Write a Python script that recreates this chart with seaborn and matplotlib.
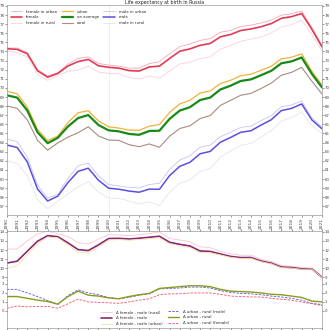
import matplotlib
matplotlib.use("Agg")
import matplotlib.pyplot as plt
import seaborn as sns
import numpy as np
import pandas as pd

years = list(range(1990, 2022))

on_average = [69.19, 68.93, 67.51, 65.14, 63.93, 64.52, 65.77, 66.69, 67.02, 65.93,
              65.34, 65.23, 64.95, 64.85, 65.27, 65.30, 66.60, 67.51, 67.88, 68.67,
              68.94, 69.83, 70.24, 70.76, 70.93, 71.39, 71.87, 72.70, 72.91, 73.34,
              71.54, 70.06]
urban = [69.62, 69.36, 67.89, 65.46, 64.21, 64.72, 66.20, 67.28, 67.49, 66.38,
         65.73, 65.59, 65.38, 65.34, 65.80, 65.98, 67.30, 68.24, 68.64, 69.43,
         69.67, 70.48, 70.83, 71.34, 71.50, 71.93, 72.37, 73.19, 73.36, 73.75,
         71.84, 70.33]
rural = [68.02, 67.76, 66.49, 64.26, 63.16, 63.97, 64.60, 65.08, 65.74, 64.73,
         64.28, 64.24, 63.78, 63.54, 63.85, 63.48, 64.70, 65.54, 65.84, 66.63,
         66.97, 68.08, 68.63, 69.19, 69.40, 69.93, 70.52, 71.39, 71.71, 72.25,
         70.74, 69.33]
male = [63.73, 63.46, 61.87, 58.91, 57.59, 58.12, 59.61, 60.84, 61.19, 59.86,
        58.99, 58.88, 58.68, 58.55, 58.89, 58.87, 60.37, 61.39, 61.83, 62.77,
        63.03, 64.04, 64.56, 65.13, 65.29, 65.92, 66.50, 67.51, 67.75, 68.24,
        66.49, 65.51]
male_urban = [64.38, 64.11, 62.41, 59.34, 57.90, 58.32, 60.07, 61.47, 61.73, 60.35,
              59.40, 59.24, 59.09, 59.02, 59.40, 59.53, 61.05, 62.08, 62.55, 63.49,
              63.72, 64.65, 65.11, 65.66, 65.80, 66.41, 66.95, 67.93, 68.13, 68.56,
              66.72, 65.70]
male_rural = [61.98, 61.71, 60.41, 57.74, 56.75, 57.57, 58.37, 59.12, 59.73, 58.55,
              57.90, 57.89, 57.59, 57.27, 57.50, 57.08, 58.55, 59.53, 59.90, 60.84,
              61.17, 62.40, 63.06, 63.71, 63.90, 64.61, 65.30, 66.38, 66.73, 67.36,
              65.87, 65.00]
female = [74.30, 74.23, 73.75, 71.88, 71.18, 71.59, 72.41, 72.89, 73.13, 72.43,
          72.26, 72.17, 71.90, 71.85, 72.30, 72.39, 73.23, 74.02, 74.28, 74.67,
          74.88, 75.61, 75.86, 76.30, 76.47, 76.71, 77.06, 77.64, 77.82, 78.17,
          76.43, 74.51]
female_urban = [74.38, 74.38, 73.87, 72.02, 71.32, 71.67, 72.63, 73.24, 73.40, 72.69,
                72.50, 72.40, 72.17, 72.17, 72.66, 72.88, 73.74, 74.53, 74.82, 75.21,
                75.42, 76.11, 76.31, 76.73, 76.89, 77.13, 77.44, 77.99, 78.14, 78.44,
                76.65, 74.67]
female_rural = [74.08, 73.83, 73.42, 71.52, 70.82, 71.37, 71.83, 71.94, 72.40, 71.74,
                71.60, 71.55, 71.17, 70.97, 71.31, 71.08, 71.84, 72.63, 72.82, 73.21,
                73.42, 74.26, 74.66, 75.13, 75.34, 75.58, 76.04, 76.69, 76.94, 77.44,
                75.85, 74.07]

title = "Life expectancy at birth in Russia"

sns.set_theme(style="ticks")
plt.rcParams['font.family'] = ['DejaVu Sans']

W = H = 330
fig = plt.figure(figsize=(3.3, 3.3), dpi=100)
fig.patch.set_facecolor("white")

def rect(l, t, r, b):
    return [l / W, 1 - b / H, (r - l) / W, (b - t) / H]

ax = fig.add_axes(rect(7, 5, 322, 215))
ax3 = fig.add_axes(rect(7, 280, 322, 328))
ax2 = fig.add_axes(rect(7, 231, 322, 280))

YFS = 2.8
XFS = 3.2
LFS = 2.8

main_series = [
    ("female in urban", female_urban, "#f3a9b8", 0.6),
    ("female", female, "#e23b57", 1.2),
    ("female in rural", female_rural, "#fbd0dc", 0.6),
    ("urban", urban, "#f2b13c", 0.9),
    ("on average", on_average, "#178a17", 1.6),
    ("rural", rural, "#a88c80", 0.8),
    ("male in urban", male_urban, "#c9c3ee", 0.6),
    ("male", male, "#5a4fe3", 1.1),
    ("male in rural", male_rural, "#e4e4f0", 0.6),
]
for name, vals, col, lw in main_series:
    sns.lineplot(x=years, y=vals, ax=ax, color=col, lw=lw, label=name)

ax.set_xlim(1990, 2021)
ax.set_ylim(56.05, 79.1)
ax.set_yticks(range(57, 80))
ax.set_xticks(years)
ax.set_xticklabels([str(y) for y in years], rotation=90)
ax.axvline(2000, color="#eeeeee", lw=0.6, zorder=0)
ax.tick_params(axis="y", labelsize=YFS, length=1.2, width=0.4, pad=0.6,
               colors="#444444", right=True, labelright=True)
ax.tick_params(axis="x", labelsize=XFS, length=1.2, width=0.4, pad=0.8,
               colors="#444444")
for s in ax.spines.values():
    s.set_linewidth(0.5)
    s.set_color("#999999")
ax.set_title(title, fontsize=3.4, pad=0.8, color="#222222")
ax.legend(loc="upper left", bbox_to_anchor=(9 / W, 1 - 8 / H),
          bbox_transform=fig.transFigure, ncol=3, fontsize=LFS,
          frameon=False, handlelength=3.0, handletextpad=0.9,
          columnspacing=1.2, labelspacing=0.45, borderaxespad=0)

# female - male differences
fm = np.array(female) - np.array(male)
fm_urban = np.array(female_urban) - np.array(male_urban)
fm_rural = np.array(female_rural) - np.array(male_rural)
sns.lineplot(x=years, y=fm_rural, ax=ax2, color="#f6c6d2", lw=0.6, label="Δ female - male (rural)")
sns.lineplot(x=years, y=fm, ax=ax2, color="#8a2a72", lw=1.2, label="Δ female - male")
sns.lineplot(x=years, y=fm_urban, ax=ax2, color="#f7dfa6", lw=0.6, label="Δ female - male (urban)")
ax2.set_xlim(1990, 2021)
ax2.set_ylim(8.7, 14.1)
ax2.set_yticks(range(9, 15))
ax2.set_xticks(years)
ax2.tick_params(axis="y", labelsize=YFS, length=1.2, width=0.4, pad=0.6,
                colors="#444444", right=True, labelright=True)
ax2.tick_params(axis="x", labelbottom=False, bottom=False, top=True,
                length=1.2, width=0.4, colors="#444444")
ax2.spines["bottom"].set_visible(False)
ax2.patch.set_alpha(0)

ur_m = np.array(male_urban) - np.array(male_rural)
ur = np.array(urban) - np.array(rural)
ur_f = np.array(female_urban) - np.array(female_rural)
sns.lineplot(x=years, y=ur_m, ax=ax3, color="#5a5ae6", lw=0.6, label="Δ urban - rural (male)")
ax3.lines[-1].set_dashes([3, 1.5])
sns.lineplot(x=years, y=ur, ax=ax3, color="#8c9a1c", lw=1.0, label="Δ urban - rural")
sns.lineplot(x=years, y=ur_f, ax=ax3, color="#f0506a", lw=0.6, label="Δ urban - rural (female)")
ax3.lines[-1].set_dashes([3, 1.5])
ax3.set_xlim(1990, 2021)
ax3.set_ylim(-1.9, 3.44)
ax3.set_yticks(range(0, 4))
ax3.set_xticks(years)
ax3.tick_params(axis="y", labelsize=YFS, length=1.2, width=0.4, pad=0.6,
                colors="#444444", right=True, labelright=True)
ax3.tick_params(axis="x", labelbottom=False, length=1.2, width=0.4, colors="#444444")
ax3.spines["top"].set_visible(False)
for a in (ax2, ax3):
    for s in a.spines.values():
        s.set_linewidth(0.5)
        s.set_color("#999999")

h2, l2 = ax2.get_legend_handles_labels()
h3, l3 = ax3.get_legend_handles_labels()
ax2.get_legend().remove()
ax3.get_legend().remove()
fig.legend(h2, l2, loc="upper left", bbox_to_anchor=(99 / W, 1 - 309 / H),
           fontsize=LFS, frameon=False, handlelength=3.0, handletextpad=0.9,
           labelspacing=0.45, borderaxespad=0)
fig.legend(h3, l3, loc="upper left", bbox_to_anchor=(166 / W, 1 - 308 / H),
           fontsize=LFS, frameon=False, handlelength=3.0, handletextpad=0.9,
           labelspacing=0.45, borderaxespad=0)

fig.savefig("out.png", dpi=100)
